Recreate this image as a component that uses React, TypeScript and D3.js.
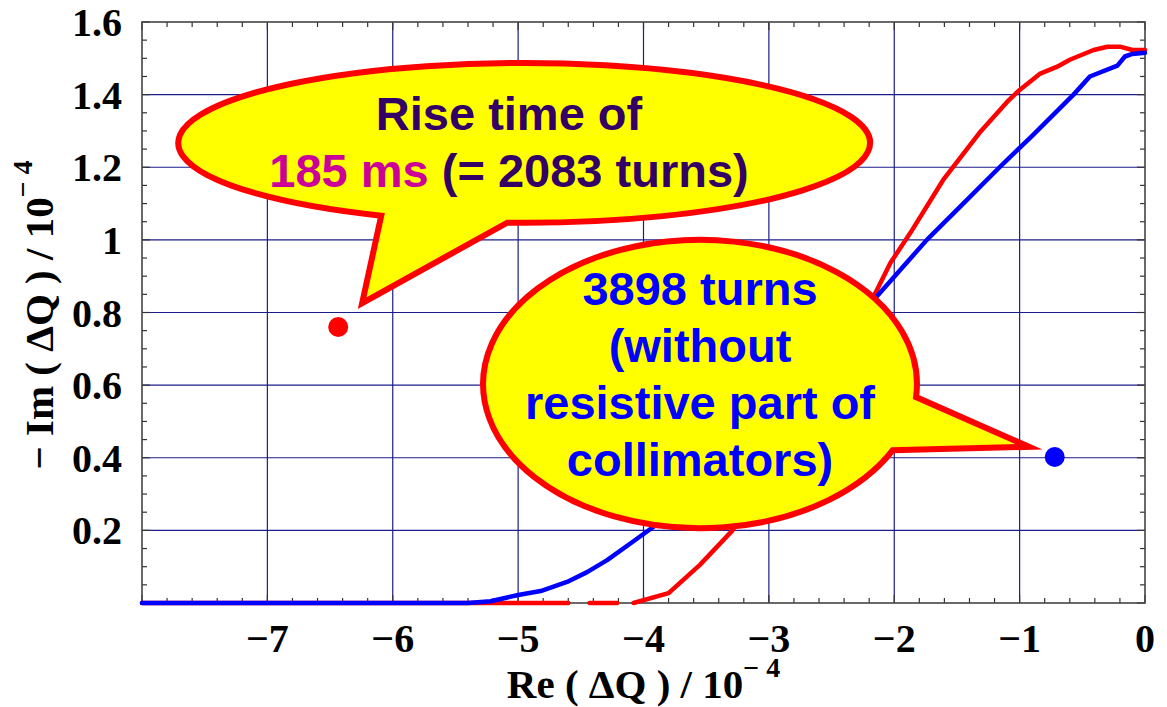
import React from "react";
import * as d3 from "d3";

// ---- data ----
const blueRe = [-8, -5.4, -5.22, -5.0, -4.82, -4.61, -4.45, -4.29, -4.08, -3.92, -3.5, -3.0, -2.5, -2.15, -1.74, -1.45, -1.16, -0.89, -0.57, -0.44, -0.22, -0.16, -0.1, 0];
const blueIm = [0, 0, 0.005, 0.022, 0.033, 0.058, 0.085, 0.118, 0.17, 0.21, 0.34, 0.52, 0.7, 0.84, 1.0, 1.1, 1.2, 1.29, 1.4, 1.45, 1.48, 1.505, 1.512, 1.515];

// null marks a gap in the red trace
const redRe = [-8, -4.6, null, -4.43, -4.21, null, -4.08, -3.8, -3.55, -3.29, -3.0, -2.6, -2.15, -2.03, -1.87, -1.61, -1.32, -1.1, -1.0, -0.84, -0.7, -0.6, -0.41, -0.3, -0.2, -0.1, 0];
const redIm = [0, 0, null, 0, 0, null, 0, 0.027, 0.105, 0.2, 0.36, 0.59, 0.854, 0.937, 1.02, 1.165, 1.295, 1.38, 1.413, 1.457, 1.477, 1.496, 1.523, 1.532, 1.532, 1.523, 1.523];

const redDot = { re: -6.435, im: 0.76 };
const blueDot = { re: -0.72, im: 0.402 };

const xTicks = [-7, -6, -5, -4, -3, -2, -1, 0];
const xTickLabels = ["\u22127", "\u22126", "\u22125", "\u22124", "\u22123", "\u22122", "\u22121", "0"];
const yTicks = [0.2, 0.4, 0.6, 0.8, 1.0, 1.2, 1.4, 1.6];
const yTickLabels = ["0.2", "0.4", "0.6", "0.8", "1", "1.2", "1.4", "1.6"];
const xGrid = [-7, -6, -5, -4, -3, -2, -1];
const yGrid = [0.2, 0.4, 0.6, 0.8, 1.0, 1.2, 1.4];

const bubble1Lines = [
  [{ t: "Rise time of", c: "#330066" }],
  [{ t: "185 ms ", c: "#cc0099" }, { t: "(= 2083 turns)", c: "#330066" }],
];
const bubble2Lines = ["3898 turns", "(without", "resistive part of", "collimators)"];

const W = 1167;
const H = 707;
const L = 142, R = 1145, T = 22, B = 603;

const SERIF = "'Liberation Serif', 'Times New Roman', serif";
const SANS = "'Liberation Sans', Arial, sans-serif";

export default function App() {
  const x = d3.scaleLinear().domain([-8, 0]).range([L, R]);
  const y = d3.scaleLinear().domain([0, 1.6]).range([B, T]);

  const blue = blueRe.map((v, i) => [v, blueIm[i]] as [any, any]);
  const red = redRe.map((v, i) => [v, redIm[i]] as [any, any]);
  const line = d3
    .line<any>()
    .defined((d) => d[0] !== null && d[1] !== null)
    .x((d) => x(d[0]))
    .y((d) => y(d[1]));

  const minorX = d3.range(-8, 0.0001, 0.2).map((v) => +v.toFixed(2));
  const minorY = d3.range(0, 1.6001, 0.05).map((v) => +v.toFixed(3));

  const ellPath = (cxD: number, cyD: number, rxU: number, ryU: number, t1: number, t2: number, tip: [number, number]) => {
    const cx = x(cxD), cy = y(cyD);
    const rx = x(cxD + rxU) - cx;
    const ry = y(cyD) - y(cyD + ryU);
    const p = (t: number) => [cx + rx * Math.cos((t * Math.PI) / 180), cy + ry * Math.sin((t * Math.PI) / 180)];
    const a = p(t1), b = p(t2);
    return `M${a[0]},${a[1]} A${rx},${ry} 0 1 0 ${b[0]},${b[1]} L${x(tip[0])},${y(tip[1])} Z`;
  };
  const b1 = ellPath(-4.952, 1.267, 2.759, 0.22, 92.8, 114.4, [-6.244, 0.826]);
  const b2 = ellPath(-3.549, 0.603, 1.73, 0.397, 5.2, 27.3, [-0.925, 0.43]);

  const b1cx = 509, b1y0 = 130, b2cx = 700, b2y0 = 305, lh = 57;

  return (
    <svg width={W} height={H} style={{ position: "absolute", left: 0, top: 0 }} xmlns="http://www.w3.org/2000/svg">
      <rect x={0} y={0} width={W} height={H} fill="#fff" />
      {/* grid */}
      <g stroke="#1c1c8c" strokeWidth={1.2}>
        {xGrid.map((v) => (
          <line key={"gx" + v} x1={x(v)} x2={x(v)} y1={T} y2={B} />
        ))}
        {yGrid.map((v) => (
          <line key={"gy" + v} x1={L} x2={R} y1={y(v)} y2={y(v)} />
        ))}
      </g>
      {/* ticks */}
      <g stroke="#333" strokeWidth={1.2}>
        {minorX.map((v, i) => {
          const len = Math.abs(v - Math.round(v)) < 1e-6 ? 8 : 5;
          return (
            <g key={"tx" + i}>
              <line x1={x(v)} x2={x(v)} y1={B} y2={B - len} />
              <line x1={x(v)} x2={x(v)} y1={T} y2={T + len} />
            </g>
          );
        })}
        {minorY.map((v, i) => {
          const len = Math.abs(v * 5 - Math.round(v * 5)) < 1e-6 ? 8 : 5;
          return (
            <g key={"ty" + i}>
              <line x1={L} x2={L + len} y1={y(v)} y2={y(v)} />
              <line x1={R} x2={R - len} y1={y(v)} y2={y(v)} />
            </g>
          );
        })}
      </g>
      <rect x={L} y={T} width={R - L} height={B - T} fill="none" stroke="#444" strokeWidth={1.6} />
      {/* curves */}
      <path d={line(red) || ""} fill="none" stroke="#ff0000" strokeWidth={4.5} strokeLinecap="round" strokeLinejoin="round" />
      <path d={line(blue) || ""} fill="none" stroke="#0000ff" strokeWidth={4.5} strokeLinecap="round" strokeLinejoin="round" />
      {/* dots */}
      <circle cx={x(redDot.re)} cy={y(redDot.im)} r={10} fill="#ff0000" />
      <circle cx={x(blueDot.re)} cy={y(blueDot.im)} r={10} fill="#0000ff" />
      {/* tick labels */}
      <g fontFamily={SERIF} fontWeight="bold" fontSize={40} fill="#000">
        {xTicks.map((v, i) => (
          <text key={"xl" + v} x={x(v)} y={652} textAnchor="middle">
            {xTickLabels[i]}
          </text>
        ))}
        {yTicks.map((v, i) => (
          <text key={"yl" + v} x={122} y={y(v) + 14} textAnchor="end">
            {yTickLabels[i]}
          </text>
        ))}
      </g>
      {/* axis titles */}
      <text x={(L + R) / 2} y={698} textAnchor="middle" fontFamily={SERIF} fontWeight="bold" fontSize={41}>
        Re ( ΔQ ) / 10
        <tspan fontSize={28} dy={-21}>{"\u2212 4"}</tspan>
      </text>
      <text
        transform={`translate(53, 315) rotate(-90)`}
        x={0}
        y={0}
        textAnchor="middle"
        fontFamily={SERIF}
        fontWeight="bold"
        fontSize={41}
      >
        {"\u2212 Im ( ΔQ ) / 10"}
        <tspan fontSize={28} dy={-21}>{"\u2212 4"}</tspan>
      </text>
      {/* callouts */}
      <path d={b1} fill="#ffff00" stroke="#ff0000" strokeWidth={6} strokeLinejoin="miter" strokeMiterlimit={30} />
      <g fontFamily={SANS} fontWeight="bold" fontSize={47} textAnchor="middle">
        {bubble1Lines.map((ln, i) => (
          <text key={"b1" + i} x={b1cx} y={b1y0 + i * lh}>
            {ln.map((s, j) => (
              <tspan key={j} fill={s.c}>
                {s.t}
              </tspan>
            ))}
          </text>
        ))}
      </g>
      <path d={b2} fill="#ffff00" stroke="#ff0000" strokeWidth={6} strokeLinejoin="miter" strokeMiterlimit={30} />
      <g fontFamily={SANS} fontWeight="bold" fontSize={47} textAnchor="middle" fill="#0000ff">
        {bubble2Lines.map((t, i) => (
          <text key={"b2" + i} x={b2cx} y={b2y0 + i * lh}>
            {t}
          </text>
        ))}
      </g>
    </svg>
  );
}
